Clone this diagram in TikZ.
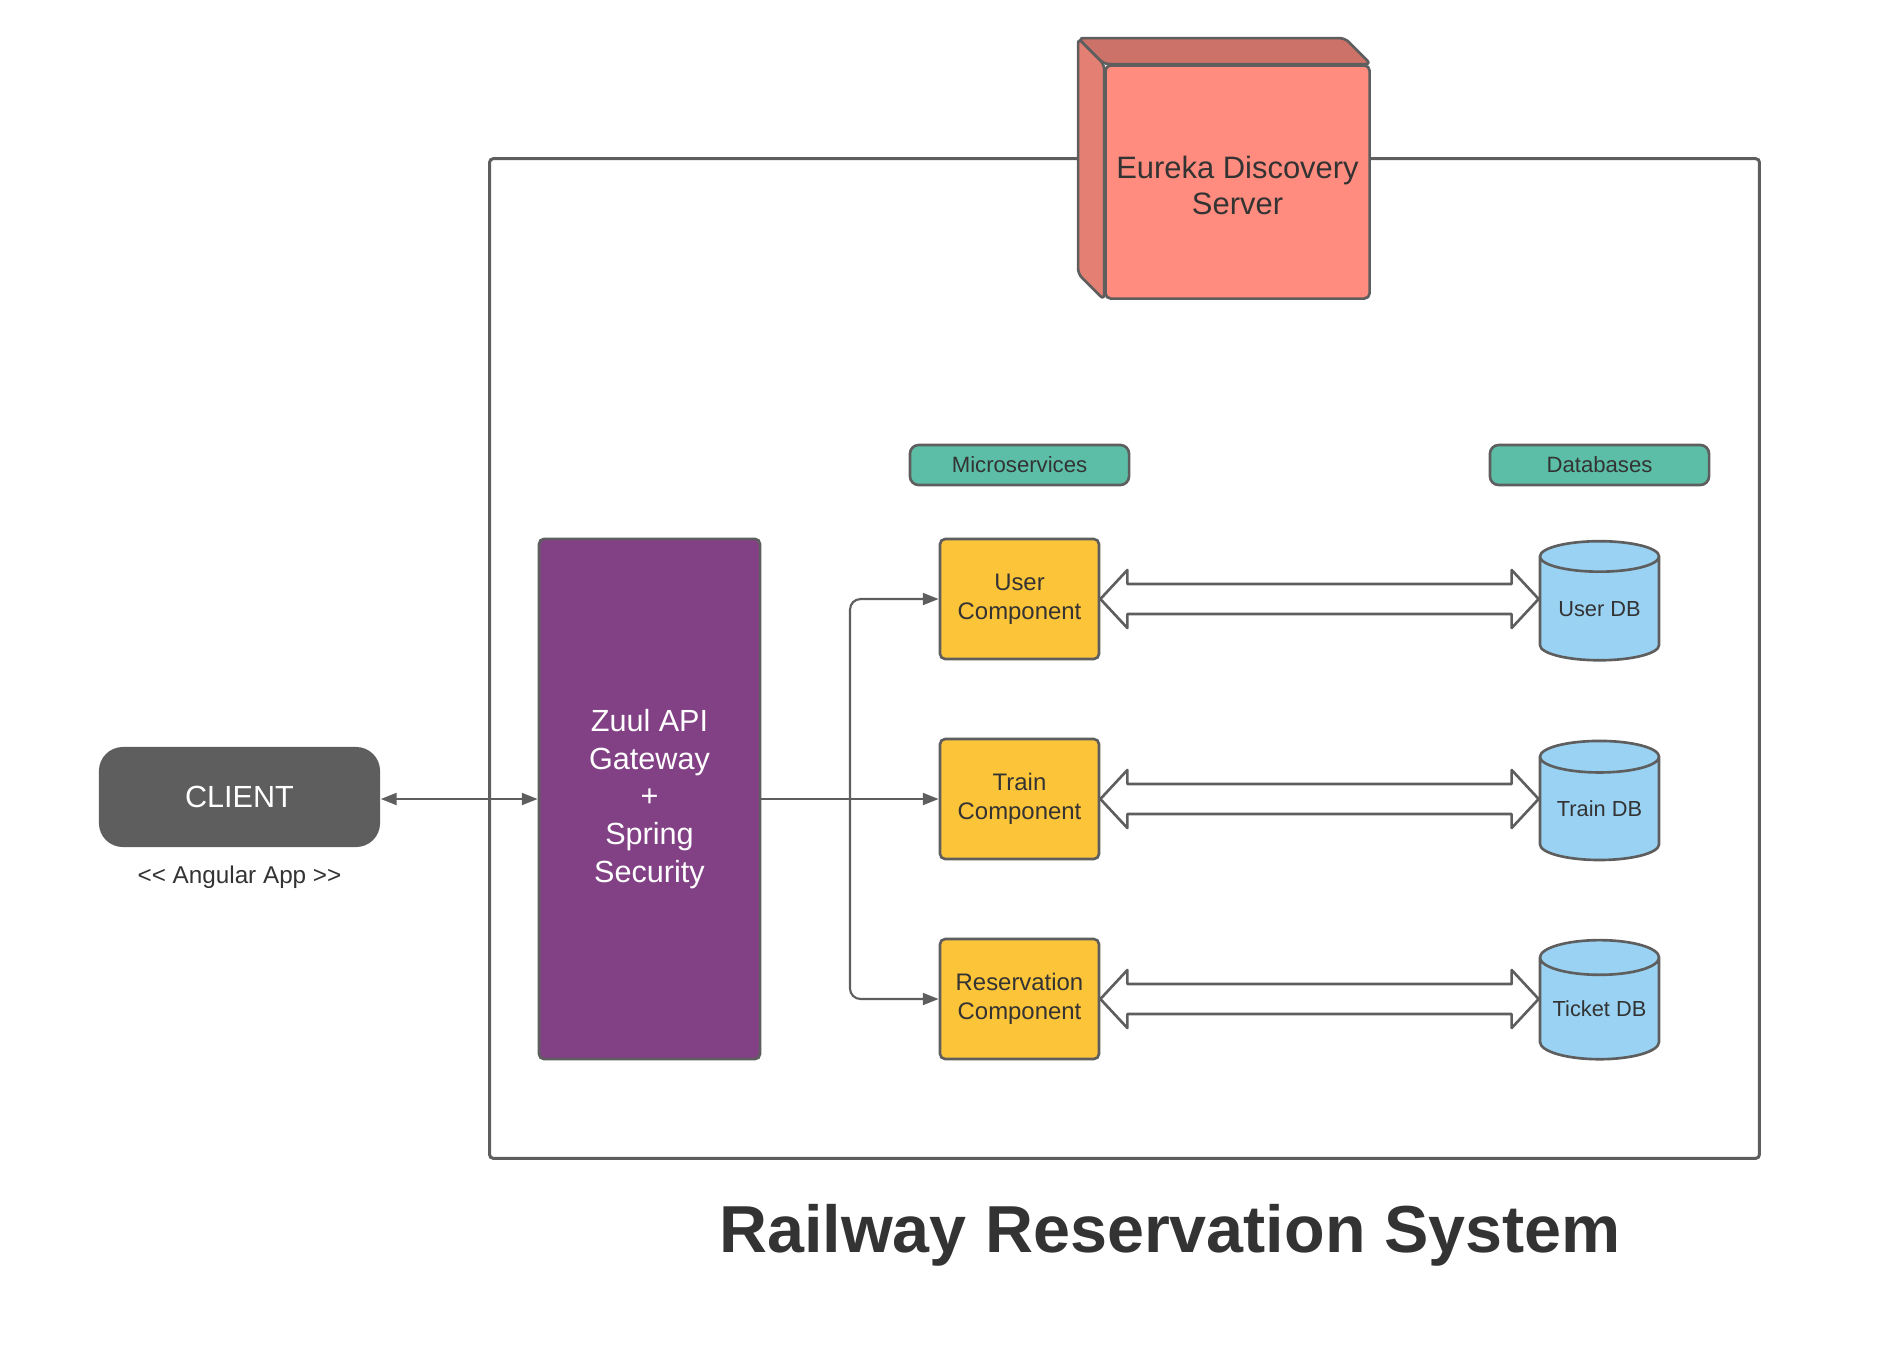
\documentclass[tikz,border=0pt]{standalone}
\usepackage{fontspec}
\setmainfont{Liberation Sans}
\usetikzlibrary{shapes.geometric,arrows.meta,calc}

\definecolor{linegray}{RGB}{94,94,94}
\definecolor{textgray}{RGB}{51,51,51}
\definecolor{clientgray}{RGB}{94,94,94}
\definecolor{eurekafront}{RGB}{255,140,126}
\definecolor{eurekaside}{RGB}{228,128,115}
\definecolor{eurekatop}{RGB}{204,114,104}
\definecolor{gwpurple}{RGB}{131,65,133}
\definecolor{tagteal}{RGB}{92,190,167}
\definecolor{compyellow}{RGB}{252,196,57}
\definecolor{dbblue}{RGB}{153,210,242}

\begin{document}
\begin{tikzpicture}[x=0.01cm, y=-0.01cm,
    >={Triangle[length=4.5pt,width=3.4pt]},
    box/.style={rectangle, draw=linegray, line width=0.75pt, rounded corners=1.5pt, align=center, text=textgray, inner sep=0pt},
    comp/.style={box, fill=compyellow, minimum width=1.59cm, minimum height=1.2cm, font=\fontsize{6.8}{8.3}\selectfont},
    tag/.style={box, fill=tagteal, rounded corners=2.5pt, minimum width=2.19cm, minimum height=0.4cm, font=\fontsize{6.3}{7.5}\selectfont},
    dbase/.style={cylinder, shape border rotate=90, aspect=0.37, draw=linegray, line width=0.75pt, fill=dbblue, minimum width=1.19cm, minimum height=1.19cm, inner sep=0pt, text=textgray, font=\fontsize{6.2}{7.5}\selectfont},
    link/.style={draw=linegray, line width=0.6pt},
    pipe/.style={draw=linegray, fill=white, line width=0.75pt, line join=round}
  ]
  \useasboundingbox (0,0) rectangle (1900,1360);
  % \draw[help lines, step=100] (0,0) grid (1900,1360);

  \node[draw=linegray, line width=0.85pt, rounded corners=1pt, minimum width=12.69cm, minimum height=9.99cm] (frame) at (1124.5,658.5) {};

  % discovery server as a box
  \node[box, fill=eurekafront, minimum width=2.64cm, minimum height=2.33cm, font=\fontsize{8.8}{10.3}\selectfont] (eureka) at (1237.5,182) {\rule{0pt}{8.3pt}Eureka Discovery\\Server};
  \filldraw[fill=eurekaside, draw=linegray, line width=0.75pt, line join=round, rounded corners=1.5pt] (eureka.north west) -- ++(-26,-26) -- ($(eureka.south west)+(-26,-26)$) -- (eureka.south west) -- cycle;
  \filldraw[fill=eurekatop, draw=linegray, line width=0.75pt, line join=round, rounded corners=1.5pt] (eureka.north west) -- ++(-26,-26) -- ($(eureka.north east)+(-26,-26)$) -- (eureka.north east) -- cycle;

  \node[fill=clientgray, rounded corners=6.8pt, minimum width=2.81cm, minimum height=1cm, text=white, font=\fontsize{8.7}{10}\selectfont] (client) at (239.5,797) {CLIENT};
  \node[text=textgray, font=\fontsize{6.9}{8}\selectfont] (angular) at (239.5,877) {<\kern0pt< Angular App >\kern0pt>};

  \node[box, fill=gwpurple, text=white, minimum width=2.21cm, minimum height=5.2cm, font=\fontsize{8.7}{10.7}\selectfont] (gateway) at (649.5,799) {Zuul API\\Gateway\\+\\Spring\\Security};

  \node[tag] (mslabel) at (1019.5,465) {Microservices};
  \node[tag] (dblabel) at (1599.5,465) {Databases};

  \node[comp] (user)  at (1019.5,599) {User\\Component};
  \node[comp] (train) at (1019.5,799) {Train\\Component};
  \node[comp] (resv)  at (1019.5,999) {Reservation\\Component};

  \node[dbase] (udb) at (1599.5,609) {User DB};
  \node[dbase] (tdb) at (1599.5,809) {Train DB};
  \node[dbase] (kdb) at (1599.5,1009) {Ticket DB};

  \draw[link, <->] (client.east |- gateway) -- (gateway);

  \coordinate (split) at (850,799);
  \draw[link, ->] (gateway.east) -- (train.west);
  \draw[link, ->, rounded corners=3pt] (split) |- (user.west);
  \draw[link, ->, rounded corners=3pt] (split) |- (resv.west);

  \foreach \a/\b in {user/udb, train/tdb, resv/kdb}
    \draw[pipe] (\a.east) -- ++(27,-29) -- ++(0,14) -- ($(\b.west |- \a.east)+(-27,-15)$) -- ++(0,-14) -- (\b.west |- \a.east)
      -- ++(-27,29) -- ++(0,-14) -- ($(\a.east)+(27,15)$) -- ++(0,14) -- cycle;

  \node[anchor=base, text=textgray, font=\bfseries\fontsize{18.9}{22}\selectfont] (title) at (1170,1252) {Railway Reservation System};
\end{tikzpicture}
\end{document}
